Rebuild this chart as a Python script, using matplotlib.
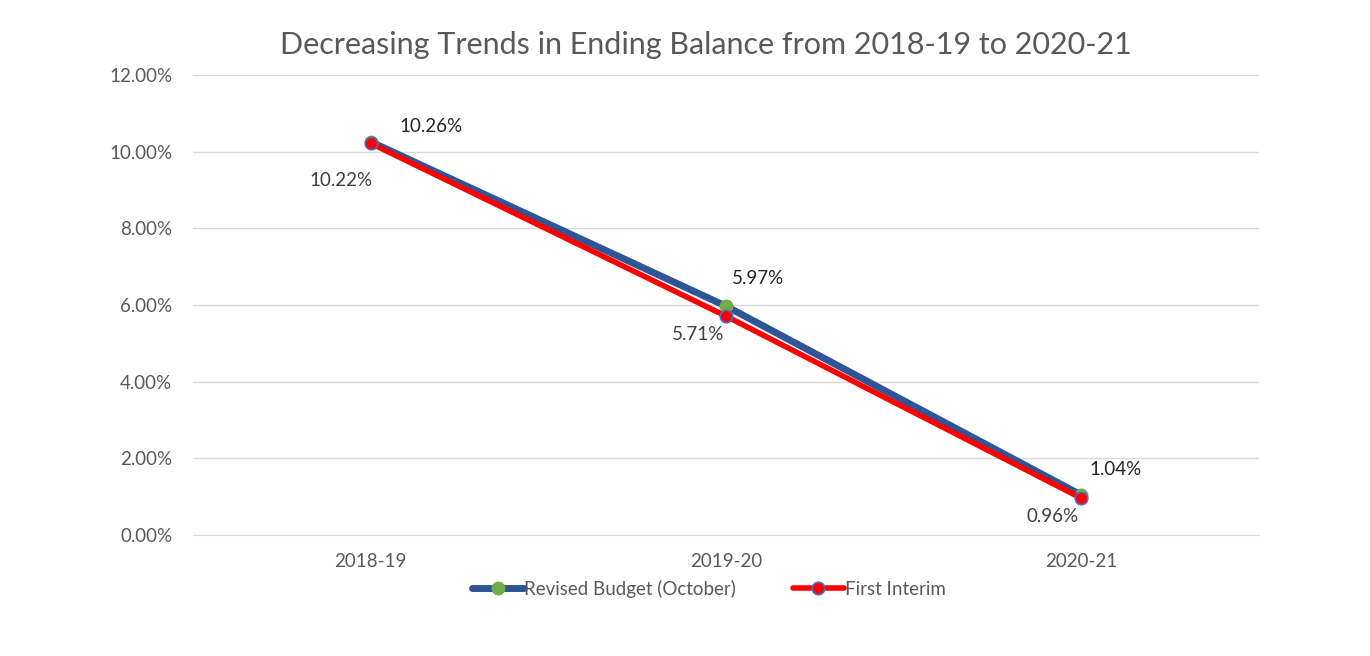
"""
Ending balance trend line chart (Excel-style)
"""
import matplotlib
matplotlib.use("Agg")
import matplotlib.pyplot as plt
from matplotlib.ticker import PercentFormatter

years = ["2018-19", "2019-20", "2020-21"]
revised_budget = [10.26, 5.97, 1.04]
first_interim = [10.22, 5.71, 0.96]
y_ticks = [0, 2, 4, 6, 8, 10, 12]

# label offsets in pixels (dx, dy), screen coords
blue_offsets = [(60, 15), (32, 28), (34, 26)]
red_offsets = [(-30, -37), (-28, -18), (-29, -18)]

plt.rcParams["font.family"] = ["Lato", "DejaVu Sans"]

fig = plt.figure(figsize=(13.7, 6.56), dpi=100)
ax = fig.add_axes([193 / 1370, 1 - 535 / 656, (1259 - 193) / 1370, (535 - 75) / 656])

x = list(range(len(years)))
ax.plot(x, revised_budget, color="#2f5597", lw=5, marker="o", ms=9,
        mfc="#70ad47", mec="#70ad47", label="Revised Budget (October)",
        solid_capstyle="round", zorder=3)
ax.plot(x, first_interim, color="#ff0000", lw=4, marker="o", ms=9,
        mfc="#ff0000", mec="#4f6cc4", mew=1.2, label="First Interim",
        solid_capstyle="round", zorder=4)

px = 0.72
fs = 13.5
for i, v in enumerate(revised_budget):
    dx, dy = blue_offsets[i]
    ax.annotate(f"{v:.2f}%", (i, v), xytext=(dx * px, dy * px),
                textcoords="offset points", ha="center", va="center",
                fontsize=fs, color="#262626")
for i, v in enumerate(first_interim):
    dx, dy = red_offsets[i]
    ax.annotate(f"{v:.2f}%", (i, v), xytext=(dx * px, dy * px),
                textcoords="offset points", ha="center", va="center",
                fontsize=fs, color="#404040")

ax.set_xlim(-0.5, 2.5)
ax.set_ylim(0, 12)
ax.set_yticks(y_ticks)
ax.yaxis.set_major_formatter(PercentFormatter(decimals=2))
ax.set_xticks(x)
ax.set_xticklabels(years)
ax.grid(axis="y", color="#d9d9d9", lw=1)
ax.set_axisbelow(True)
for s in ["top", "right", "left"]:
    ax.spines[s].set_visible(False)
ax.spines["bottom"].set_color("#d9d9d9")
ax.tick_params(length=0, labelsize=fs, labelcolor="#595959", pad=13)
ax.tick_params(axis="y", pad=15)

fig.suptitle("Decreasing Trends in Ending Balance from 2018-19 to 2020-21",
             x=706 / 1370, y=1 - 45 / 656, va="center", fontsize=22,
             color="#595959")

ax.legend(loc="center", bbox_to_anchor=(709 / 1370, 1 - 589 / 656),
          bbox_transform=fig.transFigure, ncol=2, frameon=False,
          fontsize=fs, labelcolor="#595959", handlelength=2.75,
          handletextpad=0.05, columnspacing=3)

fig.savefig("out.png", dpi=100)
